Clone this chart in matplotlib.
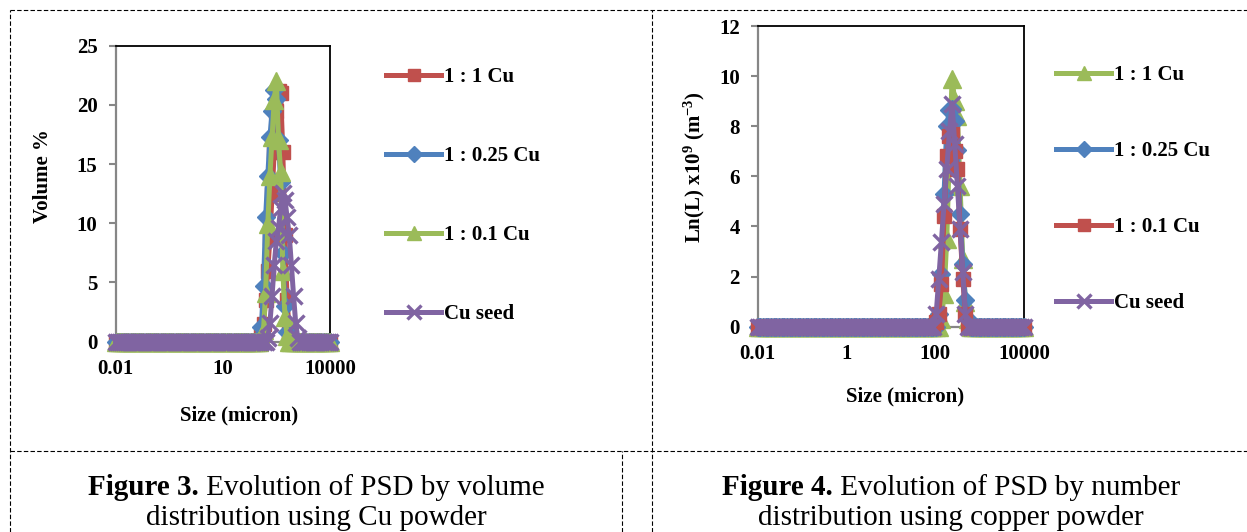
import matplotlib
matplotlib.use('Agg')
import matplotlib.pyplot as plt
from matplotlib.lines import Line2D
from matplotlib.ticker import FixedLocator, NullLocator

plt.rcParams['font.family'] = ['Liberation Serif', 'DejaVu Serif']
plt.rcParams['mathtext.fontset'] = 'custom'
plt.rcParams['mathtext.rm'] = 'Liberation Serif:bold'
plt.rcParams['mathtext.bf'] = 'Liberation Serif:bold'
plt.rcParams['mathtext.it'] = 'Liberation Serif:bold:italic'

# size classes (micron), 0.01 .. 10000
size = [0.01, 0.0115, 0.0132, 0.0151, 0.0174, 0.02, 0.0229, 0.0263, 0.0302, 0.0347,
        0.0398, 0.0457, 0.0525, 0.0603, 0.0692, 0.0794, 0.0912, 0.105, 0.12, 0.138,
        0.158, 0.182, 0.209, 0.24, 0.275, 0.316, 0.363, 0.417, 0.479, 0.55,
        0.631, 0.724, 0.832, 0.955, 1.1, 1.26, 1.45, 1.66, 1.91, 2.19,
        2.51, 2.88, 3.31, 3.8, 4.37, 5.01, 5.75, 6.61, 7.59, 8.71,
        10.0, 11.5, 13.2, 15.1, 17.4, 20.0, 22.9, 26.3, 30.2, 34.7,
        39.8, 45.7, 52.5, 60.3, 69.2, 79.4, 91.2, 105, 120, 138,
        158, 182, 209, 240, 275, 316, 363, 417, 479, 550,
        631, 724, 832, 955, 1096, 1259, 1445, 1660, 1905, 2188,
        2512, 2884, 3311, 3802, 4365, 5012, 5754, 6607, 7586, 8710, 10000]

# Figure 3 (volume %): first non-zero class and the non-zero values, zero elsewhere
vol_1_1_start, vol_1_1 = 68, [0.5, 1.5, 3.5, 6.0, 8.8, 12.5, 16.0, 19.5, 21.2, 21.0, 16.0, 9.0, 3.5, 0.9]
vol_1_025_start, vol_1_025 = 67, [0.3, 1.2, 4.7, 10.5, 14.0, 17.3, 19.5, 21.3, 20.5, 17.0, 13.5, 7.5, 3.0, 0.8]
vol_1_01_start, vol_1_01 = 68, [0.4, 1.0, 4.1, 9.9, 14.0, 17.3, 20.4, 22.0, 17.0, 14.3, 6.0, 2.1, 0.5]
vol_seed_start, vol_seed = 71, [0.3, 1.6, 3.9, 6.5, 8.5, 9.6, 11.3, 12.6, 12.0, 10.5, 9.0, 6.5, 3.9, 1.6, 0.3]

# Figure 4 (Ln(L) x10^9)
num_1_1_start, num_1_1 = 69, [0.3, 1.3, 3.5, 7.0, 9.9, 9.0, 8.4, 5.6, 2.7, 1.0, 0.3]
num_1_025_start, num_1_025 = 68, [0.5, 2.1, 5.3, 8.0, 8.65, 8.7, 8.2, 7.05, 4.5, 2.5, 1.06, 0.3]
num_1_01_start, num_1_01 = 67, [0.2, 0.5, 1.7, 4.4, 6.8, 7.6, 7.7, 7.0, 6.3, 3.9, 1.9, 0.5]
num_seed_start, num_seed = 67, [0.5, 1.9, 3.4, 4.9, 6.3, 7.8, 8.9, 7.3, 5.6, 3.9, 2.2, 0.5]


def full(start, vals):
    return [0] * start + vals + [0] * (len(size) - start - len(vals))


RED, BLUE, GREEN, PURPLE = '#C0504D', '#4F81BD', '#9BBB59', '#8064A2'
styles = {
    'red': dict(color=RED, marker='s', markersize=10.5),
    'blue': dict(color=BLUE, marker='D', markersize=9),
    'green': dict(color=GREEN, marker='^', markersize=12.5),
    'purple': dict(color=PURPLE, marker='x', markersize=12, markeredgewidth=2.4),
}

W, H = 1247, 532
fig = plt.figure(figsize=(W / 100, H / 100), dpi=100)


def px_axes(l, t, r, b):
    return fig.add_axes([l / W, 1 - b / H, (r - l) / W, (b - t) / H])


def style_axes(ax, ymax, ystep, xticks):
    ax.set_xscale('log')
    ax.set_xlim(0.01, 10000)
    ax.set_ylim(0, ymax)
    ax.set_yticks(range(0, ymax + 1, ystep))
    ax.xaxis.set_major_locator(FixedLocator(xticks))
    ax.xaxis.set_minor_locator(NullLocator())
    ax.set_xticklabels([('%g' % v) for v in xticks])
    for s in ['top', 'right']:
        ax.spines[s].set_color('black')
        ax.spines[s].set_linewidth(1.3)
    for s in ['left', 'bottom']:
        ax.spines[s].set_color('#868686')
        ax.spines[s].set_linewidth(1.6)
    ax.tick_params(axis='y', direction='out', length=5, width=1.5, color='#868686', pad=8,
                   labelsize=15)
    ax.tick_params(axis='x', direction='out', length=5, width=1.5, color='#868686', pad=7.5,
                   labelsize=15)
    for lab in ax.get_xticklabels() + ax.get_yticklabels():
        lab.set_fontweight('bold')


def plot_series(ax, series):
    for y, key, label in series:
        ax.plot(size, y, linewidth=3.6, label=label, clip_on=False, zorder=3,
                markeredgecolor=styles[key]['color'], **styles[key])


# ---- Figure 3 ----
ax1 = px_axes(115.5, 45.7, 330, 341.7)
plot_series(ax1, [(full(vol_1_1_start, vol_1_1), 'red', '1 : 1 Cu'),
                  (full(vol_1_025_start, vol_1_025), 'blue', '1 : 0.25 Cu'),
                  (full(vol_1_01_start, vol_1_01), 'green', '1 : 0.1 Cu'),
                  (full(vol_seed_start, vol_seed), 'purple', 'Cu seed')])
style_axes(ax1, 25, 5, [0.01, 10, 10000])
ax1.set_xlabel('Size (micron)', fontsize=15, fontweight='bold')
ax1.xaxis.set_label_coords(0.576, -0.216)
ax1.set_ylabel('Volume %', fontsize=15, fontweight='bold')
ax1.yaxis.set_label_coords(-0.293, 0.561)
ax1.legend(loc='upper left', bbox_to_anchor=(386 / W, 1 - 67 / H), bbox_transform=fig.transFigure,
           frameon=False, prop={'weight': 'bold', 'size': 15}, handlelength=2.64,
           handletextpad=0.15, labelspacing=2.83, borderpad=0, borderaxespad=0, numpoints=1,
           markerscale=0.85)

# ---- Figure 4 ----
ax2 = px_axes(757.7, 26, 1024, 326.7)
plot_series(ax2, [(full(num_1_1_start, num_1_1), 'green', '1 : 1 Cu'),
                  (full(num_1_025_start, num_1_025), 'blue', '1 : 0.25 Cu'),
                  (full(num_1_01_start, num_1_01), 'red', '1 : 0.1 Cu'),
                  (full(num_seed_start, num_seed), 'purple', 'Cu seed')])
style_axes(ax2, 12, 2, [0.01, 1, 100, 10000])
ax2.set_xlabel('Size (micron)', fontsize=15, fontweight='bold')
ax2.xaxis.set_label_coords(0.555, -0.199)
ax2.set_ylabel('Ln(L) x10$^{9}$ (m$^{-3}$)', fontsize=15, fontweight='bold')
ax2.yaxis.set_label_coords(-0.191, 0.532)
ax2.legend(loc='upper left', bbox_to_anchor=(1056 / W, 1 - 65 / H), bbox_transform=fig.transFigure,
           frameon=False, prop={'weight': 'bold', 'size': 15}, handlelength=2.64,
           handletextpad=0.15, labelspacing=2.69, borderpad=0, borderaxespad=0, numpoints=1,
           markerscale=0.85)

# ---- dashed table borders ----
dash = dict(color='black', linewidth=0.8, linestyle=(0, (4, 2)), transform=fig.transFigure)
fig.add_artist(Line2D([10 / W, 1], [1 - 9.5 / H] * 2, **dash))
fig.add_artist(Line2D([10 / W, 1], [1 - 451 / H] * 2, **dash))
fig.add_artist(Line2D([10 / W] * 2, [0, 1 - 9.5 / H], **dash))
fig.add_artist(Line2D([651.7 / W] * 2, [0, 1 - 9.5 / H], **dash))
fig.add_artist(Line2D([621.7 / W] * 2, [0, 1 - 451 / H], **dash))

# ---- captions ----
renderer = fig.canvas.get_renderer()


def caption(xc, yb, bold, rest):
    t1 = fig.text(0, 1 - yb / H, bold, fontsize=21, fontweight='bold', va='baseline')
    t2 = fig.text(0, 1 - yb / H, rest, fontsize=21, va='baseline')
    w1 = t1.get_window_extent(renderer).width
    w2 = t2.get_window_extent(renderer).width
    x0 = xc - (w1 + w2) / 2
    t1.set_x(x0 / W)
    t2.set_x((x0 + w1) / W)


caption(316, 495, 'Figure 3.', '\u00a0Evolution of PSD by volume')
caption(316, 525, '', 'distribution using Cu powder')
caption(951, 495, 'Figure 4.', '\u00a0Evolution of PSD by number')
caption(951, 525, '', 'distribution using copper powder')

fig.savefig('out.png', dpi=100)
